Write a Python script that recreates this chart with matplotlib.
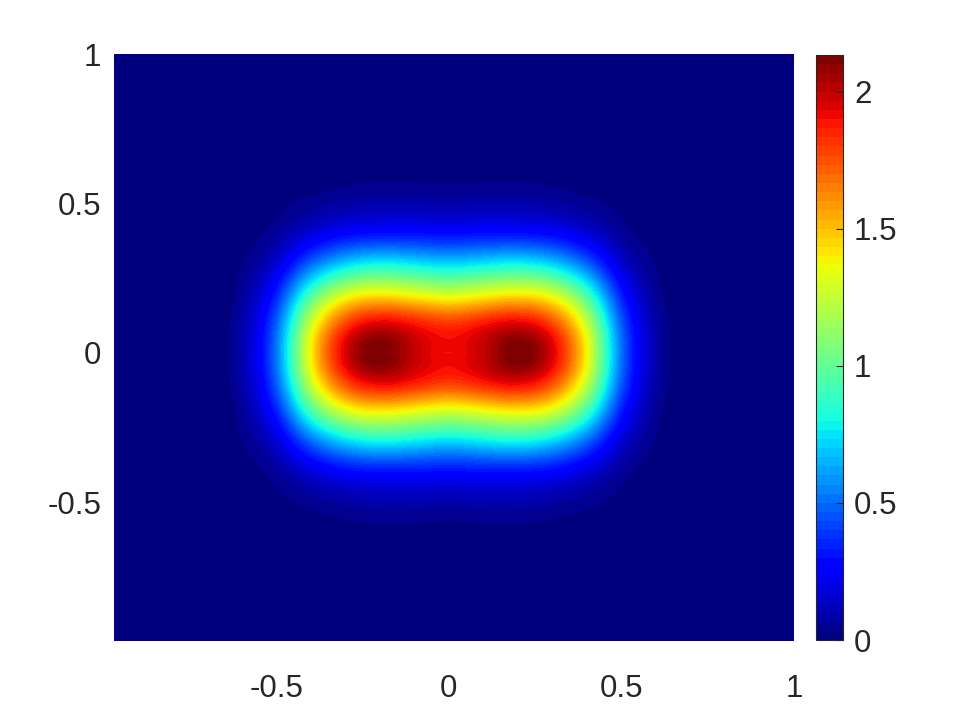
import numpy as np
import matplotlib
matplotlib.use("Agg")
import matplotlib.pyplot as plt

# ---------- Data ----------
# grid points where the field is non-zero, step 0.1
x_vals = [-0.7, -0.6, -0.5, -0.4, -0.3, -0.2, -0.1, 0.0, 0.1, 0.2, 0.3, 0.4, 0.5, 0.6, 0.7]
y_vals = [0.6, 0.5, 0.4, 0.3, 0.2, 0.1, 0.0, -0.1, -0.2, -0.3, -0.4, -0.5, -0.6]   # top row first

row_p06 = [0.00, 0.00, 0.00, 0.01, 0.02, 0.02, 0.02, 0.02, 0.02, 0.02, 0.02, 0.01, 0.00, 0.00, 0.00]
row_p05 = [0.00, 0.00, 0.02, 0.05, 0.08, 0.10, 0.10, 0.09, 0.10, 0.10, 0.08, 0.05, 0.02, 0.00, 0.00]
row_p04 = [0.00, 0.01, 0.06, 0.18, 0.27, 0.30, 0.30, 0.29, 0.30, 0.30, 0.27, 0.18, 0.06, 0.01, 0.00]
row_p03 = [0.00, 0.03, 0.17, 0.48, 0.70, 0.78, 0.75, 0.71, 0.75, 0.78, 0.70, 0.48, 0.17, 0.03, 0.00]
row_p02 = [0.00, 0.06, 0.33, 0.90, 1.27, 1.37, 1.32, 1.26, 1.32, 1.37, 1.27, 0.90, 0.33, 0.06, 0.00]
row_p01 = [0.01, 0.09, 0.47, 1.25, 1.76, 1.93, 1.87, 1.80, 1.87, 1.93, 1.76, 1.25, 0.47, 0.09, 0.01]
row_000 = [0.01, 0.10, 0.52, 1.38, 1.95, 2.13, 1.99, 1.90, 1.99, 2.13, 1.95, 1.38, 0.52, 0.10, 0.01]
row_m01 = [0.01, 0.09, 0.47, 1.25, 1.76, 1.93, 1.87, 1.80, 1.87, 1.93, 1.76, 1.25, 0.47, 0.09, 0.01]
row_m02 = [0.00, 0.06, 0.33, 0.90, 1.27, 1.37, 1.32, 1.26, 1.32, 1.37, 1.27, 0.90, 0.33, 0.06, 0.00]
row_m03 = [0.00, 0.03, 0.17, 0.48, 0.70, 0.78, 0.75, 0.71, 0.75, 0.78, 0.70, 0.48, 0.17, 0.03, 0.00]
row_m04 = [0.00, 0.01, 0.06, 0.18, 0.27, 0.30, 0.30, 0.29, 0.30, 0.30, 0.27, 0.18, 0.06, 0.01, 0.00]
row_m05 = [0.00, 0.00, 0.02, 0.05, 0.08, 0.10, 0.10, 0.09, 0.10, 0.10, 0.08, 0.05, 0.02, 0.00, 0.00]
row_m06 = [0.00, 0.00, 0.00, 0.01, 0.02, 0.02, 0.02, 0.02, 0.02, 0.02, 0.02, 0.01, 0.00, 0.00, 0.00]

field = np.array([row_p06, row_p05, row_p04, row_p03, row_p02, row_p01, row_000,
                  row_m01, row_m02, row_m03, row_m04, row_m05, row_m06])

x_ticks = [-0.5, 0, 0.5, 1]
y_ticks = [-0.5, 0, 0.5, 1]
cbar_ticks = [0, 0.5, 1, 1.5, 2]
cmax = 2.135

# ---------- Pad with zeros out to [-1, 1] ----------
step = 0.1
px_left = int(round((x_vals[0] + 1.0) / step))
px_right = int(round((1.0 - x_vals[-1]) / step))
py_top = int(round((1.0 - y_vals[0]) / step))
py_bot = int(round((y_vals[-1] + 1.0) / step))
full = np.pad(field, ((py_top, py_bot), (px_left, px_right)))
ext = (-1.0 - step / 2, 1.0 + step / 2, -1.0 - step / 2, 1.0 + step / 2)

# ---------- Plot ----------
plt.rcParams["font.family"] = ["Liberation Sans", "DejaVu Sans"]
txt = "#262626"

fig = plt.figure(figsize=(9.6, 7.2), dpi=100)
ax = fig.add_axes([114 / 960, 79 / 720, 680 / 960, 587 / 720])
cax = fig.add_axes([816 / 960, 80 / 720, 27 / 960, 585 / 720])

cmap = plt.get_cmap("jet", 64)
im = ax.imshow(full, extent=ext, origin="upper", cmap=cmap, vmin=0, vmax=cmax,
               interpolation="spline16", aspect="auto")
ax.set_xlim(-0.97, 1)
ax.set_ylim(-0.965, 1)
ax.set_xticks(x_ticks)
ax.set_yticks(y_ticks)
ax.set_xticklabels(["-0.5", "0", "0.5", "1"])
ax.set_yticklabels(["-0.5", "0", "0.5", "1"])
ax.tick_params(axis="both", length=0, labelsize=22.5, colors=txt)
ax.tick_params(axis="x", pad=24)
ax.tick_params(axis="y", pad=9)
for s in ax.spines.values():
    s.set_visible(False)

cb = fig.colorbar(im, cax=cax, ticks=cbar_ticks)
cb.ax.set_yticklabels(["0", "0.5", "1", "1.5", "2"])
cb.ax.tick_params(direction="in", length=5, width=0.8, labelsize=22.5, colors=txt, pad=8)
cb.outline.set_linewidth(0.8)
cb.outline.set_edgecolor(txt)

fig.savefig("out.png", dpi=100)
